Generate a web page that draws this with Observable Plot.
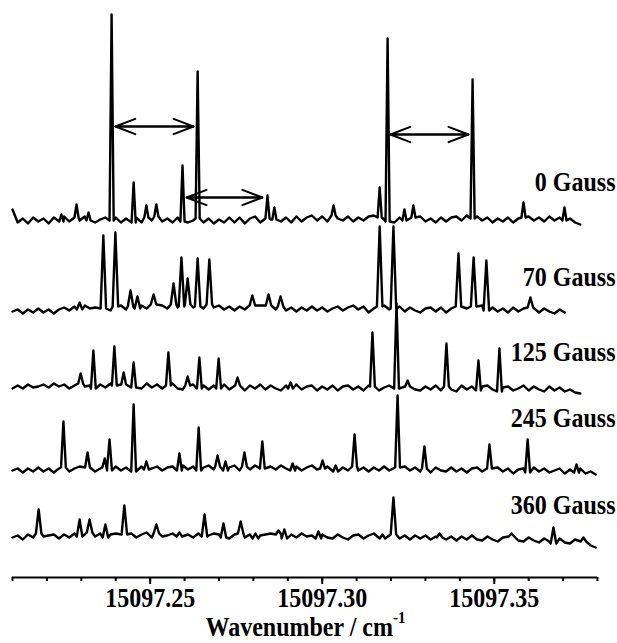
<!DOCTYPE html>
<html><head><meta charset="utf-8">
<script src="https://cdn.jsdelivr.net/npm/d3@7"></script>
<script src="https://cdn.jsdelivr.net/npm/@observablehq/plot@0.6"></script>
<style>
body{margin:0;background:#fff;}
#chart{width:617px;position:relative;}
#chart svg{display:block;}
.xtitle{width:617px;height:28px;text-align:center;font-family:"Liberation Serif","Times New Roman",serif;font-weight:bold;font-size:24px;line-height:26px;color:#000;overflow:visible;}
.xtitle span.t{display:inline-block;transform:scaleY(1.15);transform-origin:50% 80%;padding-right:6px;}
.xtitle sup{font-size:15px;line-height:0;position:relative;top:-2px;}
</style></head><body>
<div id="chart"></div>
<script>
// ---------- data ----------
const base = 15097;                       // cm^-1
const fields = ["0 Gauss", "70 Gauss", "125 Gauss", "245 Gauss", "360 Gauss"];
const offsets = [358, 268, 190, 108, 41];  // vertical stacking offset (arb. units)
const gridStart = 0.21, gridStep = 0.0015; // baseline sampling (cm^-1 above base)
const majorTicks = [15097.25, 15097.30, 15097.35];
const minorTicks = [15097.21,15097.22,15097.23,15097.24,15097.25,15097.26,15097.27,15097.28,15097.29,15097.30,15097.31,15097.32,15097.33,15097.34,15097.35,15097.36,15097.37,15097.38];

// baseline (noise) readings, arb. units
const noise0 = [10,-3,1,-4,2,-2,1,-4,2,-2, 3,-2,2,-1,3,-1,-3,0,2,-1, 2,-3,1,-3,2,-3,2,-1,3,-2, 1,-3,2,-2,-3,-1,1,-3,1,-4, 0,-3,2,-3,2,-4,1,3,-3,1, 0,0,-2,2,-3,3,-2,2,4,-1, 3,-2,4,1,-1,3,-2,2,-1,3, 4,2,0,-2,-3,2,-1,1,2,3, -2,1,-3,2,-2,2,3,-1,4,1, 3,-1,2,-3,1,-2,2,-3,1,2, 3,-1,2,-2,3,-1,2,-1,1,-3, -5];
const noise1 = [-2,0,-4,0,-3,1,-3,0,-4,0, 2,-1,3,0,4,1,2,4,1,-1, 3,4,0,3,1,4,1,5,2,4, 1,5,2,3,5,2,3,1,5,2, 4,0,3,-1,3,0,4,1,4,0, 4,0,3,-1,2,-2,2,-1,3,-1, 2,-2,1,3,-1,2,4,0,3,-3, 1,3,4,0,1,3,-2,2,-1,-3, 1,2,-2,2,-3,1,3,-2,1,3, 0,4,-1,2,-2,1,-3,2,-2,1, 2,-1,-3,1,-2,-4,0,-3];
const noise2 = [-1,2,-1,3,0,1,3,0,4,1, 3,-1,2,4,1,2,-1,3,0,4, 2,-1,3,0,3,-1,4,0,3,-1, 2,4,-1,-2,2,3,-1,2,-2,2, -1,3,-2,1,2,-3,2,-1,3,-2, 2,-1,-3,2,-1,3,-2,1,2,-3, 1,-2,2,-3,1,2,-2,1,-3,2, 1,-3,0,2,-1,0,-4,1,-2,-3, 1,-2,2,-3,1,-2,-4,2,-2,1, -3,1,2,-2,-4,0,1,-3,-1,2, -3,1,-2,-4,1,-3,0,-4,-2,-5,-6];
const noise3 = [-1,1,-3,1,-2,2,-2,1,-3,1, 2,-2,1,3,-1,2,-2,1,2,-1, 3,-1,2,-2,1,3,0,1,3,-1, 2,3,-1,4,0,3,-1,2,4,0, 3,-1,2,4,-1,3,0,4,1,-1, 3,0,4,1,-1,3,-1,2,4,0, 1,3,0,-2,2,-1,3,-1,2,-2, 2,-1,3,-1,-2,2,3,-1,2,-2, 1,-3,2,-1,-2,2,-2,1,-3,1, 2,-2,1,-3,2,-2,1,-4,0,1, -3,2,-2,1,-3,-1,1,-4,0,-3, 1,-4,-2,-5];
const noise4 = [-1,1,-3,2,-1,3,0,1,2,-2, 2,-1,3,0,2,4,0,3,-1,2, 3,-1,2,3,-1,2,4,-1,3,0, 1,3,0,-2,2,-1,3,0,1,3, 2,-1,-2,2,3,-1,2,-2,1,2, 3,-1,2,-2,2,-1,3,0,1,-2, 2,-1,-2,2,-1,-3,1,2,-2,1, 3,0,-2,1,2,-2,1,-3,1,-2, 1,-3,0,-1,-3,0,-4,0,-3,1, -3,-4,0,-3,-5,-1,-4,0,-4,-5, -1,-4,-6,-2,-5,-7,-2,-6,-7,-3, -8,-5,-9,-11];

// peaks: [position (cm^-1 above base), height above local baseline]
const peaks0 = [[0.2242,7],[0.2286,13],[0.2321,8],[0.2388,206],[0.2452,40],[0.2489,12],[0.2518,12],[0.2594,56],[0.2638,147],[0.2841,23],[0.2861,12],[0.3033,10],[0.3167,30],[0.3190,183],[0.3239,11],[0.3265,12],[0.3437,139],[0.3585,15],[0.3704,13]];
const peaks1 = [[0.2295,7],[0.2364,73],[0.2399,74],[0.2443,16],[0.2463,12],[0.2510,10],[0.2568,21],[0.2591,49],[0.2609,26],[0.2638,48],[0.2672,45],[0.2797,10],[0.2844,11],[0.2879,10],[0.3167,80],[0.3207,82],[0.3396,53],[0.3440,49],[0.3477,50],[0.3605,10]];
const peaks2 = [[0.2298,10],[0.2335,38],[0.2396,39],[0.2423,12],[0.2452,25],[0.2553,33],[0.2609,9],[0.2643,31],[0.2699,30],[0.2754,8],[0.2908,6],[0.3146,54],[0.3216,85],[0.3248,6],[0.3361,43],[0.3454,30],[0.3515,43]];
const peaks3 = [[0.2248,46],[0.2318,15],[0.2368,9],[0.2382,31],[0.2452,67],[0.2489,8],[0.2585,17],[0.2641,43],[0.2696,11],[0.2719,9],[0.2774,14],[0.2826,27],[0.2914,7],[0.3001,8],[0.3039,6],[0.3094,32],[0.3219,72],[0.3297,22],[0.3486,24],[0.3597,33],[0.3739,8]];
const peaks4 = [[0.2176,24],[0.2295,17],[0.2324,13],[0.2370,13],[0.2425,29],[0.2518,9],[0.2585,4],[0.2658,22],[0.2713,14],[0.2763,12],[0.2806,5],[0.2873,4],[0.2890,9],[0.2989,7],[0.3175,4],[0.3207,37],[0.3341,4],[0.3550,3],[0.3672,16],[0.3759,4]];
const halfWidth = [0.0006, 0.0008, 0.0007, 0.0007, 0.0008];

// splitting arrows on the 0 Gauss trace: [from, to, level above its baseline]
const arrowFrom = [0.2399, 0.2606, 0.3198];
const arrowTo   = [0.2626, 0.2826, 0.3425];
const arrowLevel = [93, 22, 85];

// ---------- layout ----------
const labelLift = [37, 32, 35, 51, 31];

const noise = [noise0, noise1, noise2, noise3, noise4];
const peaks = [peaks0, peaks1, peaks2, peaks3, peaks4];

function buildTrace(k) {
  const nz = noise[k], pk = peaks[k], hw = halfWidth[k];
  const pts = [];
  nz.forEach((v, i) => {
    const x = gridStart + i * gridStep;
    if (!pk.some(([p]) => Math.abs(p - x) < hw * 1.3)) pts.push([x, v]);
  });
  pk.forEach(([p, h]) => {
    const j = Math.max(0, Math.min(nz.length - 1, Math.round((p - gridStart) / gridStep)));
    const b = nz[j];
    pts.push([p - hw, b], [p, b + h], [p + hw, b]);
  });
  pts.sort((a, b) => a[0] - b[0]);
  return pts.map(([x, v]) => ({field: fields[k], x: base + x, y: offsets[k] + v}));
}
const traces = fields.flatMap((f, k) => buildTrace(k));
const arrows = arrowFrom.map((f, i) => ({x1: base + f, x2: base + arrowTo[i], y: offsets[0] + arrowLevel[i]}));
const labels = fields.map((f, k) => ({text: f, y: offsets[k] + labelLift[k]}));

const fam = "'Liberation Serif','Times New Roman',serif";

const plot = Plot.plot({
  width: 617, height: 615,
  marginLeft: 12, marginRight: 20, marginTop: 0, marginBottom: 38,
  style: {fontFamily: fam, fontSize: "24px", color: "#000", background: "#fff", overflow: "visible"},
  x: {domain: [15097.21, 15097.38]},
  y: {domain: [0, 577], axis: null},
  marks: [
    Plot.axisX(minorTicks, {tickSize: 4, strokeWidth: 2, tickFormat: () => "", label: null}),
    Plot.axisX(majorTicks, {tickSize: 7, strokeWidth: 2, tickPadding: 3, tickFormat: d3.format(".2f"), fontSize: 24, label: null}),
    Plot.ruleY([0], {stroke: "#000", strokeWidth: 2}),
    Plot.line(traces, {x: "x", y: "y", z: "field", stroke: "#000", strokeWidth: 2.4, strokeLinejoin: "round", strokeLinecap: "round"}),
    Plot.arrow(arrows, {x1: "x1", x2: "x2", y1: "y", y2: "y", stroke: "#000", strokeWidth: 2, headLength: 16, headAngle: 42}),
    Plot.arrow(arrows, {x1: "x2", x2: "x1", y1: "y", y2: "y", stroke: "#000", strokeWidth: 2, headLength: 16, headAngle: 42}),
    Plot.text(labels, {x: 15097.38, y: "y", text: "text", textAnchor: "end", dx: 18, fontSize: 24, fill: "#000"})
  ]
});
d3.select(plot).selectAll("text").each(function() {
  const t = this.getAttribute("transform") || "";
  this.setAttribute("transform", t + " scale(1,1.16)");
  this.setAttribute("font-weight", "bold");
  this.setAttribute("font-family", fam);
  this.style.fontWeight = "bold";
});
document.getElementById("chart").appendChild(plot);
const title = document.createElement("div");
title.className = "xtitle";
title.innerHTML = '<span class="t">Wavenumber / cm<sup>-1</sup></span>';
document.getElementById("chart").appendChild(title);
</script>
</body></html>
